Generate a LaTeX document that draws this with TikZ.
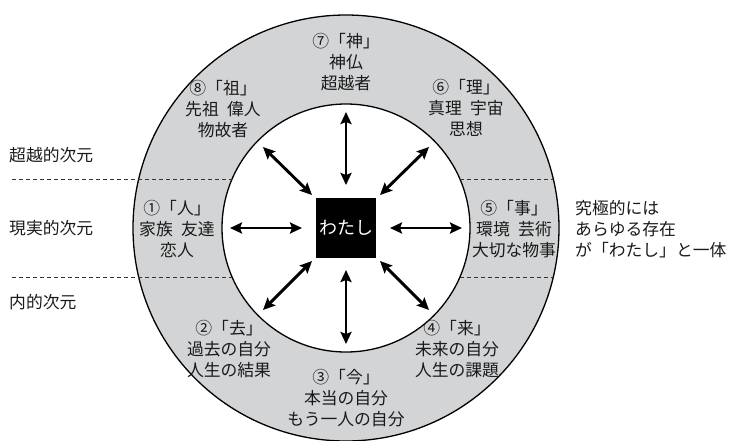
\documentclass[tikz,border=0pt]{standalone}
\usepackage{fontspec}
\newfontfamily\jp{Noto Sans CJK JP}
\usetikzlibrary{arrows.meta}
\definecolor{ringgray}{HTML}{D3D4D5}
\definecolor{inkgray}{HTML}{1A1A1A}
\begin{document}
\begin{tikzpicture}[x=1pt,y=-1pt,
  lbl/.style={font=\jp\fontsize{16.8}{21}\selectfont, align=center, text=inkgray, inner sep=0pt},
  side/.style={font=\jp\fontsize{16.8}{21}\selectfont, align=left, anchor=west, text=inkgray, inner sep=0pt},
  link/.style={line width=2.9pt, {Stealth[length=12pt,width=11pt,inset=2pt]}-{Stealth[length=12pt,width=11pt,inset=2pt]}},
  dimline/.style={dash pattern=on 4pt off 3pt, line width=0.7pt, draw=black!80}
]
\useasboundingbox (0,0) rectangle (731,440);
\coordinate (c) at (346,228);
% rings
\fill[ringgray] (c) circle[radius=213pt];
\draw[line width=1.3pt] (c) circle[radius=213pt];
\fill[white] (c) circle[radius=124pt];
\draw[line width=1.3pt] (c) circle[radius=124pt];
% dimension lines
\coordinate (dl1a) at (12,179);  \coordinate (dl1b) at (232.1,179);
\coordinate (dr1a) at (459.9,179); \coordinate (dr1b) at (553.3,179);
\coordinate (dl2a) at (12,277);  \coordinate (dl2b) at (232.1,277);
\coordinate (dr2a) at (459.9,277); \coordinate (dr2b) at (553.3,277);
\draw[dimline] (dl1a) -- (dl1b);
\draw[dimline] (dr1a) -- (dr1b);
\draw[dimline] (dl2a) -- (dl2b);
\draw[dimline] (dr2a) -- (dr2b);
% left labels
\node[side] (t1) at (9,155) {超越的次元};
\node[side] (t2) at (9,228) {現実的次元};
\node[side] (t3) at (9,302) {内的次元};
% right text
\node[side] (rt) at (575,229) {究極的には\\あらゆる存在\\が「わたし」と一体};
% ring labels
\node[lbl] (n7) at (346,62) {⑦「神」\\神仏\\超越者};
\node[lbl] (n8) at (223,109) {⑧「祖」\\先祖\hspace{0.5em}偉人\\物故者};
\node[lbl] (n6) at (466,108) {⑥「理」\\真理\hspace{0.5em}宇宙\\思想};
\node[lbl] (n1) at (177,229) {①「人」\\家族\hspace{0.5em}友達\\恋人};
\node[lbl] (n5) at (514,229) {⑤「事」\\環境\hspace{0.5em}芸術\\大切な物事};
\node[lbl] (n2) at (229,349) {②「去」\\過去の自分\\人生の結果};
\node[lbl] (n4) at (457,349) {④「来」\\未来の自分\\人生の課題};
\node[lbl] (n3) at (346,398) {③「今」\\本当の自分\\もう一人の自分};
% arrow ends
\coordinate (uA) at (346,185); \coordinate (uB) at (346,112);
\coordinate (dA) at (346,270); \coordinate (dB) at (346,344);
\coordinate (lA) at (302,228); \coordinate (lB) at (230,228);
\coordinate (rA) at (390,228); \coordinate (rB) at (462,228);
\coordinate (nwA) at (312,195); \coordinate (nwB) at (263,147);
\coordinate (neA) at (380,195); \coordinate (neB) at (429,147);
\coordinate (swA) at (312,261); \coordinate (swB) at (263,310);
\coordinate (seA) at (380,261); \coordinate (seB) at (429,310);
\draw[link] (uA) -- (uB);
\draw[link] (dA) -- (dB);
\draw[link] (lA) -- (lB);
\draw[link] (rA) -- (rB);
\draw[link] (nwA) -- (nwB);
\draw[link] (neA) -- (neB);
\draw[link] (swA) -- (swB);
\draw[link] (seA) -- (seB);
% center
\node[fill=black, minimum size=60pt, inner sep=0pt, text=white, font=\jp\fontsize{18}{20}\selectfont] (w) at (c) {わたし};
\end{tikzpicture}
\end{document}
